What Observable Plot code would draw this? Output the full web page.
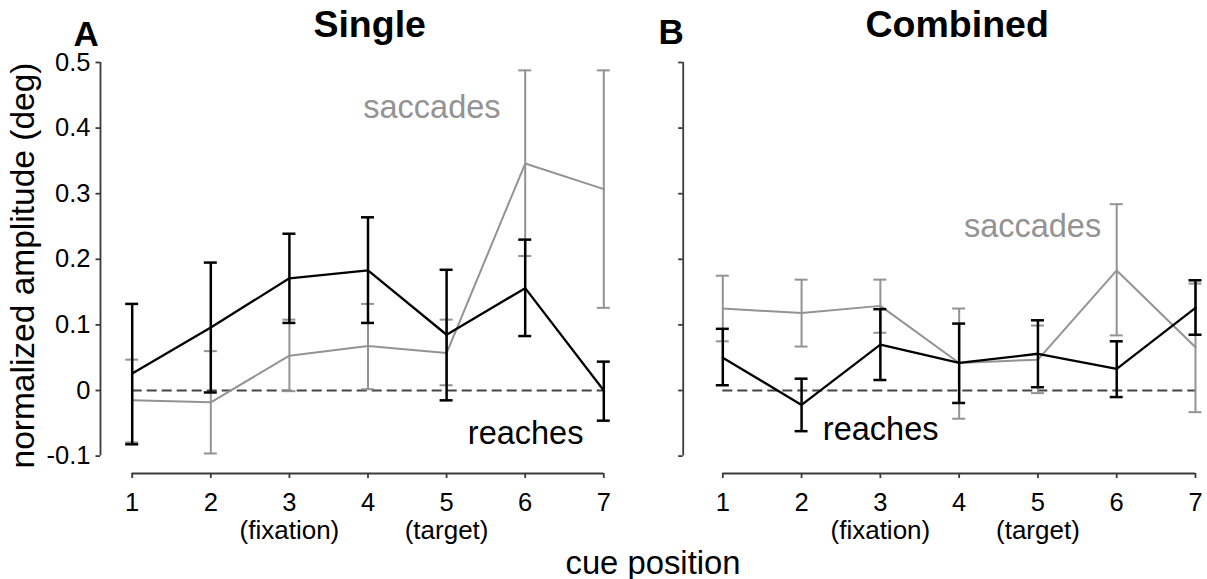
<!DOCTYPE html>
<html>
<head>
<meta charset="utf-8">
<script src="https://cdn.jsdelivr.net/npm/d3@7"></script>
<script src="https://cdn.jsdelivr.net/npm/@observablehq/plot@0.6"></script>
<style>
  html, body { margin: 0; padding: 0; background: #ffffff; }
  #chart { position: relative; width: 1207px; height: 579px; background: #ffffff; }
  #chart svg { position: absolute; left: 0; top: 0; }
</style>
</head>
<body>
<div id="chart"></div>
<script>
// ---------- data ----------
const positions = [1, 2, 3, 4, 5, 6, 7];
const xTickLabels = ["1", "2", "3", "4", "5", "6", "7"];
const xSubLabelPositions = [3, 5];
const xSubLabels = ["(fixation)", "(target)"];
const yTicks = [-0.1, 0, 0.1, 0.2, 0.3, 0.4, 0.5];
const yTickLabels = ["-0.1", "0", "0.1", "0.2", "0.3", "0.4", "0.5"];

// Panel A: Single
const singleReachMean = [0.026, 0.096, 0.171, 0.183, 0.085, 0.156, 0.000];
const singleReachLo   = [-0.082, -0.003, 0.103, 0.103, -0.015, 0.083, -0.046];
const singleReachHi   = [0.132, 0.195, 0.239, 0.264, 0.184, 0.230, 0.044];
const singleSaccMean  = [-0.015, -0.018, 0.053, 0.068, 0.057, 0.346, 0.307];
const singleSaccLo    = [-0.079, -0.096, -0.001, 0.002, 0.008, 0.205, 0.126];
const singleSaccHi    = [0.047, 0.060, 0.108, 0.132, 0.108, 0.488, 0.488];

// Panel B: Combined
const combinedReachMean = [0.050, -0.022, 0.070, 0.042, 0.056, 0.033, 0.126];
const combinedReachLo   = [0.008, -0.062, 0.016, -0.019, 0.005, -0.010, 0.085];
const combinedReachHi   = [0.094, 0.018, 0.124, 0.102, 0.107, 0.075, 0.168];
const combinedSaccMean  = [0.125, 0.118, 0.129, 0.042, 0.047, 0.183, 0.066];
const combinedSaccLo    = [0.075, 0.067, 0.088, -0.043, -0.004, 0.084, -0.033];
const combinedSaccHi    = [0.175, 0.169, 0.169, 0.125, 0.099, 0.284, 0.163];

// series label anchors (data units)
const singleLabels = [
  {text: "saccades", x: 3.94, y: 0.415, series: "sacc"},
  {text: "reaches", x: 5.27, y: -0.081, series: "reach"}
];
const combinedLabels = [
  {text: "saccades", x: 4.06, y: 0.234, series: "sacc"},
  {text: "reaches", x: 2.27, y: -0.076, series: "reach"}
];

// ---------- styling ----------
const W = 1207, H = 579;
const FONT = "'Liberation Sans', Arial, Helvetica, sans-serif";
const GRAY = "#939393";
const BLACK = "#000000";
const AXIS = "#3a3a3a";
const tickLabelMap = new Map(yTicks.map((t, i) => [t, yTickLabels[i]]));
const xLabelMap = new Map(positions.map((p, i) => [p, xTickLabels[i]]));

function rows(mean, lo, hi) {
  return positions.map((p, i) => ({pos: p, mean: mean[i], lo: lo[i], hi: hi[i]}));
}

function seriesMarks(data, color, lw, ew) {
  return [
    Plot.ruleX(data, {x: "pos", y1: "lo", y2: "hi", stroke: color, strokeWidth: ew}),
    Plot.ruleY(data, {y: "hi", x1: "pos", x2: "pos", insetLeft: -6.5, insetRight: -6.5, stroke: color, strokeWidth: ew}),
    Plot.ruleY(data, {y: "lo", x1: "pos", x2: "pos", insetLeft: -6.5, insetRight: -6.5, stroke: color, strokeWidth: ew}),
    Plot.line(data, {x: "pos", y: "mean", stroke: color, strokeWidth: lw})
  ];
}

function panel({frameLeft, frameRight, axisOffset, showYLabels, reach, sacc, labels, title, letter, letterDx, letterDy, titleDx, extra}) {
  const marks = [
    Plot.ruleY([0], {x1: 1, x2: 7, stroke: "#444", strokeWidth: 1.9, strokeDasharray: "10,5"}),
    ...seriesMarks(sacc, GRAY, 2, 2),
    ...seriesMarks(reach, BLACK, 2.3, 2.5),
    // axes
    Plot.ruleX([1], {dx: axisOffset, stroke: AXIS, strokeWidth: 1.8}),
    Plot.ruleY([-0.1], {dy: 17.4, stroke: AXIS, strokeWidth: 1.8}),
    Plot.axisY(yTicks, {anchor: "left", dx: axisOffset, tickSize: 4.5, tickPadding: 5.5, stroke: AXIS, strokeWidth: 1.8,
      fill: "#000", fontSize: 25.5,
      tickFormat: showYLabels ? (d => tickLabelMap.get(d)) : (() => "")}),
    Plot.axisX(positions, {anchor: "bottom", dy: 17.4, tickSize: 5, tickPadding: 14, stroke: AXIS, strokeWidth: 1.8,
      fill: "#000", fontSize: 25.5, tickFormat: d => xLabelMap.get(d)}),
    Plot.text(xSubLabelPositions.map((p, i) => ({pos: p, text: xSubLabels[i]})),
      {x: "pos", text: "text", frameAnchor: "bottom", dy: 82.4, lineAnchor: "bottom", fontSize: 26, fill: "#000"}),
    // series labels
    Plot.text(labels, {x: "x", y: "y", text: "text", textAnchor: "start", lineAnchor: "bottom", fontSize: 32.5,
      fill: d => d.series === "sacc" ? GRAY : BLACK}),
    // title & letter
    Plot.text([title], {frameAnchor: "top", dx: titleDx, dy: -25.5, lineAnchor: "bottom", fontSize: 37.5, fontWeight: "bold", fill: "#000"}),
    Plot.text([letter], {frameAnchor: "top-left", dx: letterDx, dy: letterDy, textAnchor: "start", lineAnchor: "bottom", fontSize: 35, fontWeight: "bold", fill: "#000"}),
    ...(extra || [])
  ];
  return Plot.plot({
    width: W,
    height: H,
    marginLeft: frameLeft,
    marginRight: W - frameRight,
    marginTop: 62,
    marginBottom: H - 455.6,
    x: {domain: [1, 7], axis: null},
    y: {domain: [-0.1, 0.5], axis: null},
    style: {fontFamily: FONT, background: "transparent", overflow: "visible", color: "#000"},
    marks
  });
}

const left = panel({
  frameLeft: 131.7, frameRight: 603.3, axisOffset: -31.7, showYLabels: true,
  reach: rows(singleReachMean, singleReachLo, singleReachHi),
  sacc: rows(singleSaccMean, singleSaccLo, singleSaccHi),
  labels: singleLabels, title: "Single", letter: "A", letterDx: -58.7, letterDy: -17, titleDx: 1.7,
  extra: [
    Plot.text(["normalized amplitude (deg)"], {frameAnchor: "left", rotate: -90, dx: -98.7, dy: 6.2,
      textAnchor: "middle", lineAnchor: "bottom", fontSize: 33.5, fill: "#000"}),
    Plot.text(["cue position"], {frameAnchor: "bottom", dx: 285, dy: 117.7, lineAnchor: "bottom", fontSize: 32.8, fill: "#000"})
  ]
});

const right = panel({
  frameLeft: 722.3, frameRight: 1195, axisOffset: -39.6, showYLabels: false,
  reach: rows(combinedReachMean, combinedReachLo, combinedReachHi),
  sacc: rows(combinedSaccMean, combinedSaccLo, combinedSaccHi),
  labels: combinedLabels, title: "Combined", letter: "B", letterDx: -64.3, letterDy: -18.7, titleDx: -2
});

const chart = document.getElementById("chart");
chart.appendChild(left);
chart.appendChild(right);
</script>
</body>
</html>
